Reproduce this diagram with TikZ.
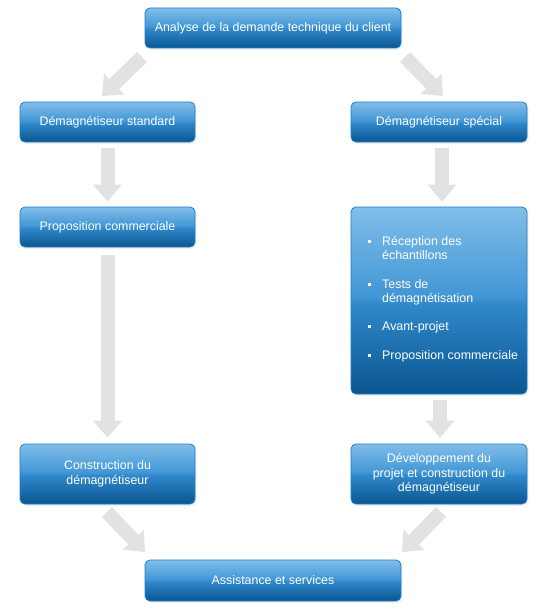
\documentclass[tikz,border=0pt]{standalone}
\usepackage{fontspec}
\setmainfont{Liberation Sans}
\usetikzlibrary{arrows.meta,shadows}
\definecolor{btop}{RGB}{130,190,233}
\definecolor{bhi}{RGB}{64,150,213}
\definecolor{blo}{RGB}{48,136,202}
\definecolor{bbot}{RGB}{10,86,146}
\definecolor{bedge}{RGB}{30,125,202}
\definecolor{agray}{RGB}{226,226,226}
\pgfdeclareverticalshading{boxshade}{100bp}{color(0bp)=(bbot); color(25bp)=(bbot); color(49bp)=(blo); color(51bp)=(bhi); color(75bp)=(btop); color(100bp)=(btop)}
\tikzset{
  box/.style={draw=bedge, line width=0.8pt, rounded corners=5pt, shading=boxshade,
    text=white, font=\fontsize{12.4}{14.5}\selectfont, align=center, inner sep=0pt,
    general shadow={fill=black, fill opacity=0.06, shadow xshift=1.5pt, shadow yshift=-2pt}},
  itemtxt/.style={text=white, font=\fontsize{12.4}{14.5}\selectfont, inner sep=0pt, anchor=base west},
  bul/.style={fill=white, minimum size=3pt, inner sep=0pt},
  garrow/.style={draw=agray, line width=14pt, -{Triangle[width=29pt,length=17pt,line width=0pt]}}
}
\begin{document}
\begin{tikzpicture}[x=1pt,y=-1pt]
\fill[white] (0,0) rectangle (548,610);
\useasboundingbox (0,0) rectangle (548,610);

% boxes
\node[box, minimum width=256pt, minimum height=40pt] (top) at (273,28) {Analyse de la demande technique du client};
\node[box, minimum width=175pt, minimum height=40pt] (std) at (107.5,122) {Démagnétiseur standard};
\node[box, minimum width=176pt, minimum height=40pt] (spec) at (439,122) {Démagnétiseur spécial};
\node[box, minimum width=175pt, minimum height=40pt] (prop) at (107.5,227) {Proposition commerciale};
\node[box, minimum width=176pt, minimum height=187pt] (big) at (439,300.5) {};
\node[box, minimum width=175pt, minimum height=60pt] (cons) at (107.5,474) {Construction du\\démagnétiseur};
\node[box, minimum width=176pt, minimum height=60pt] (dev) at (439,474) {Développement du\\projet et construction du\\démagnétiseur};
\node[box, minimum width=256pt, minimum height=41pt] (assist) at (273,580.5) {Assistance et services};

% list in the big box
\node[bul] (b1) at (369,241) {};
\node[itemtxt] (t1a) at (382,245) {Réception des};
\node[itemtxt] (t1b) at (382,259) {échantillons};
\node[bul] (b2) at (369,284) {};
\node[itemtxt] (t2a) at (382,288) {Tests de};
\node[itemtxt] (t2b) at (382,302.5) {démagnétisation};
\node[bul] (b3) at (369,326) {};
\node[itemtxt] (t3) at (382,330) {Avant-projet};
\node[bul] (b4) at (369,355) {};
\node[itemtxt] (t4) at (382,359) {Proposition commerciale};

% arrow ends
\coordinate (a1s) at (142,57);  \coordinate (a1e) at (102,96);
\coordinate (a2s) at (405,57);  \coordinate (a2e) at (443,96);
\coordinate (a3s) at (107,512); \coordinate (a3e) at (145,552);
\coordinate (a4s) at (441,512); \coordinate (a4e) at (402,552);

% arrows
\draw[garrow] (a1s) -- (a1e);
\draw[garrow] (a2s) -- (a2e);
\draw[garrow, shorten <=6pt, shorten >=5pt] (std.south) -- (prop.north);
\draw[garrow, shorten <=6pt, shorten >=5pt] ([xshift=3pt]spec.south) -- ([xshift=3pt]big.north);
\draw[garrow, shorten <=8pt, shorten >=6pt] (prop.south) -- (cons.north);
\draw[garrow, shorten <=6pt, shorten >=6pt] ([xshift=1pt]big.south) -- ([xshift=1pt]dev.north);
\draw[garrow] (a3s) -- (a3e);
\draw[garrow] (a4s) -- (a4e);
\end{tikzpicture}
\end{document}
